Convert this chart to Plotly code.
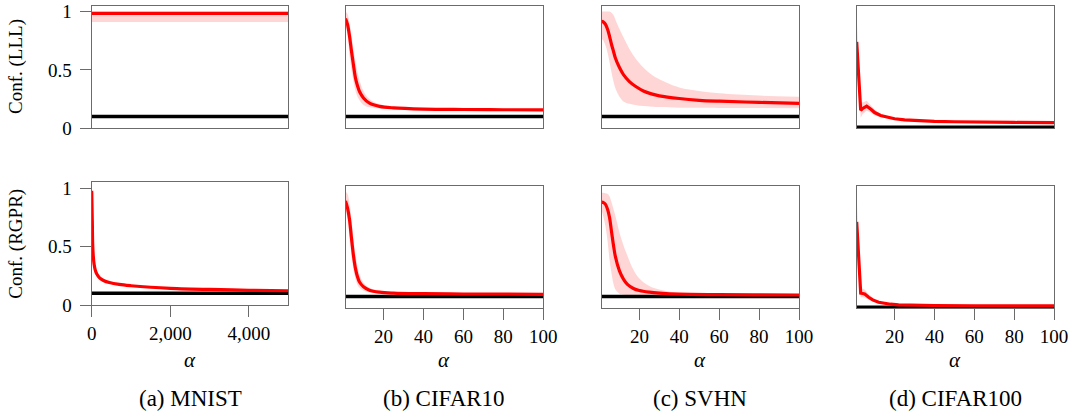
import plotly.graph_objects as go

# ---------------- data ----------------
datasets = ["MNIST", "CIFAR10", "SVHN", "CIFAR100"]
captions = ["(a) MNIST", "(b) CIFAR10", "(c) SVHN", "(d) CIFAR100"]
row_titles = ["Conf. (LLL)", "Conf. (RGPR)"]

# MNIST
mnist_alpha_lll = [0, 1000, 2000, 3000, 4000, 5000]
mnist_lll_mean = [0.985, 0.985, 0.985, 0.985, 0.985, 0.985]
mnist_lll_up = [1.0, 1.0, 1.0, 1.0, 1.0, 1.0]
mnist_lll_lo = [0.91, 0.91, 0.91, 0.91, 0.91, 0.91]

mnist_alpha_rgpr = [0, 15, 25, 40, 60, 90, 130, 200, 300, 450, 700, 1000, 1500, 2000, 3000, 4000, 5000]
mnist_rgpr_mean = [0.977, 0.72, 0.52, 0.42, 0.35, 0.30, 0.265, 0.232, 0.21, 0.192, 0.176, 0.165, 0.152, 0.143, 0.133, 0.126, 0.122]
mnist_rgpr_up = [0.99, 0.74, 0.55, 0.45, 0.37, 0.32, 0.28, 0.245, 0.22, 0.2, 0.182, 0.17, 0.156, 0.146, 0.135, 0.128, 0.124]
mnist_rgpr_lo = [0.96, 0.70, 0.49, 0.39, 0.33, 0.285, 0.25, 0.22, 0.2, 0.185, 0.17, 0.16, 0.148, 0.14, 0.131, 0.124, 0.12]

# CIFAR10
c10_alpha_lll = [1, 2, 3, 4, 5, 6, 7, 8, 10, 13, 18, 25, 40, 60, 80, 100]
c10_lll_mean = [0.94, 0.89, 0.79, 0.66, 0.54, 0.43, 0.365, 0.315, 0.26, 0.215, 0.188, 0.175, 0.165, 0.161, 0.159, 0.157]
c10_lll_up = [1.0, 0.98, 0.9, 0.8, 0.68, 0.57, 0.48, 0.41, 0.32, 0.25, 0.205, 0.185, 0.172, 0.167, 0.165, 0.163]
c10_lll_lo = [0.88, 0.8, 0.63, 0.5, 0.4, 0.32, 0.27, 0.24, 0.2, 0.18, 0.17, 0.165, 0.16, 0.156, 0.154, 0.152]

c10_alpha_rgpr = [1, 2, 3, 4, 5, 6, 7, 8, 10, 13, 18, 25, 40, 60, 80, 100]
c10_rgpr_mean = [0.92, 0.86, 0.76, 0.6, 0.45, 0.34, 0.27, 0.225, 0.185, 0.155, 0.138, 0.13, 0.125, 0.122, 0.121, 0.12]
c10_rgpr_up = [1.0, 0.98, 0.9, 0.76, 0.6, 0.46, 0.36, 0.29, 0.22, 0.175, 0.15, 0.138, 0.13, 0.126, 0.125, 0.124]
c10_rgpr_lo = [0.85, 0.76, 0.6, 0.45, 0.33, 0.25, 0.2, 0.175, 0.15, 0.135, 0.128, 0.124, 0.12, 0.118, 0.117, 0.116]

# SVHN
svhn_alpha_lll = [1, 2, 3, 4, 5, 6, 7, 8, 10, 12, 15, 18, 22, 26, 30, 40, 50, 60, 80, 100]
svhn_lll_mean = [0.915, 0.91, 0.89, 0.85, 0.79, 0.72, 0.66, 0.6, 0.52, 0.46, 0.4, 0.36, 0.32, 0.295, 0.278, 0.255, 0.24, 0.232, 0.222, 0.214]
svhn_lll_up = [1.0, 1.0, 1.0, 1.0, 1.0, 0.99, 0.97, 0.93, 0.85, 0.78, 0.68, 0.6, 0.52, 0.46, 0.42, 0.35, 0.32, 0.3, 0.28, 0.27]
svhn_lll_lo = [0.77, 0.75, 0.71, 0.65, 0.57, 0.48, 0.4, 0.34, 0.27, 0.23, 0.21, 0.2, 0.19, 0.185, 0.182, 0.177, 0.175, 0.174, 0.173, 0.172]

svhn_alpha_rgpr = [1, 2, 3, 4, 5, 6, 7, 8, 10, 12, 14, 17, 20, 25, 30, 40, 60, 80, 100]
svhn_rgpr_mean = [0.91, 0.905, 0.89, 0.85, 0.78, 0.66, 0.54, 0.44, 0.32, 0.25, 0.205, 0.17, 0.152, 0.138, 0.13, 0.121, 0.117, 0.115, 0.114]
svhn_rgpr_up = [0.99, 0.99, 0.985, 0.98, 0.96, 0.91, 0.85, 0.79, 0.65, 0.54, 0.45, 0.33, 0.255, 0.19, 0.16, 0.13, 0.12, 0.118, 0.116]
svhn_rgpr_lo = [0.84, 0.78, 0.7, 0.58, 0.42, 0.3, 0.21, 0.16, 0.125, 0.117, 0.113, 0.112, 0.111, 0.111, 0.11, 0.11, 0.11, 0.11, 0.11]

# CIFAR100
c100_alpha_lll = [1, 3, 4, 6, 8, 10, 13, 16, 20, 25, 30, 40, 50, 60, 80, 100]
c100_lll_mean = [0.74, 0.155, 0.17, 0.19, 0.165, 0.135, 0.11, 0.095, 0.082, 0.072, 0.066, 0.06, 0.056, 0.053, 0.05, 0.048]
c100_lll_up = [0.95, 0.22, 0.22, 0.235, 0.2, 0.16, 0.125, 0.105, 0.09, 0.08, 0.072, 0.065, 0.06, 0.057, 0.054, 0.052]
c100_lll_lo = [0.7, 0.09, 0.12, 0.15, 0.135, 0.11, 0.095, 0.085, 0.074, 0.066, 0.061, 0.055, 0.052, 0.05, 0.047, 0.045]

c100_alpha_rgpr = [1, 3, 4, 5, 7, 9, 12, 15, 18, 22, 30, 40, 60, 80, 100]
c100_rgpr_mean = [0.74, 0.13, 0.127, 0.122, 0.095, 0.072, 0.052, 0.042, 0.035, 0.03, 0.026, 0.024, 0.022, 0.021, 0.02]
c100_rgpr_up = [0.95, 0.17, 0.17, 0.16, 0.12, 0.09, 0.065, 0.05, 0.042, 0.036, 0.03, 0.027, 0.024, 0.023, 0.022]
c100_rgpr_lo = [0.72, 0.09, 0.095, 0.09, 0.075, 0.058, 0.043, 0.035, 0.03, 0.026, 0.023, 0.021, 0.02, 0.019, 0.018]

# baseline (1 / number of classes) lines
baselines = [0.1, 0.1, 0.1, 0.01]
x_ranges = [[0, 5000], [1, 100], [1, 100], [1, 100]]

series = {
    (0, 0): (mnist_alpha_lll, mnist_lll_mean, mnist_lll_up, mnist_lll_lo),
    (1, 0): (mnist_alpha_rgpr, mnist_rgpr_mean, mnist_rgpr_up, mnist_rgpr_lo),
    (0, 1): (c10_alpha_lll, c10_lll_mean, c10_lll_up, c10_lll_lo),
    (1, 1): (c10_alpha_rgpr, c10_rgpr_mean, c10_rgpr_up, c10_rgpr_lo),
    (0, 2): (svhn_alpha_lll, svhn_lll_mean, svhn_lll_up, svhn_lll_lo),
    (1, 2): (svhn_alpha_rgpr, svhn_rgpr_mean, svhn_rgpr_up, svhn_rgpr_lo),
    (0, 3): (c100_alpha_lll, c100_lll_mean, c100_lll_up, c100_lll_lo),
    (1, 3): (c100_alpha_rgpr, c100_rgpr_mean, c100_rgpr_up, c100_rgpr_lo),
}

# ---------------- layout geometry (pixels) ----------------
W, H = 1075, 411
col_px = [(91.7, 288.3), (345.5, 543.3), (601.5, 799.0), (856.7, 1054.0)]
row_px = {0: [(5.7, 128.3)] * 4, 1: [(182.3, 305.0)] + [(185.7, 308.3)] * 3}

FONT = "Liberation Serif"
FRAME = "#6b6b6b"
RED = "#ff0000"
BAND = "rgba(255,0,0,0.16)"

fig = go.Figure()
layout = dict(
    width=W, height=H, margin=dict(l=0, r=0, t=0, b=0),
    paper_bgcolor="white", plot_bgcolor="white", showlegend=False,
    font=dict(family=FONT, size=19, color="black"),
)

ann = []
idx = 0
for r in range(2):
    for c in range(4):
        idx += 1
        xa = "x" if idx == 1 else f"x{idx}"
        ya = "y" if idx == 1 else f"y{idx}"
        xk = "xaxis" if idx == 1 else f"xaxis{idx}"
        yk = "yaxis" if idx == 1 else f"yaxis{idx}"
        x0, x1 = col_px[c]
        yt, yb = row_px[r][c]
        xax = dict(domain=[x0 / W, x1 / W], range=x_ranges[c], anchor=ya,
                   showgrid=False, zeroline=False, showline=True, mirror=True,
                   linecolor=FRAME, linewidth=1.3, automargin=False)
        yax = dict(domain=[1 - yb / H, 1 - yt / H], range=[0, 1.05], anchor=xa,
                   showgrid=False, zeroline=False, showline=True, mirror=True,
                   linecolor=FRAME, linewidth=1.3, automargin=False)
        if r == 1:
            if c == 0:
                xax.update(tickvals=[0, 2000, 4000], ticktext=["0", "2,000", "4,000"])
            else:
                xax.update(tickvals=[20, 40, 60, 80, 100],
                           ticktext=["20", "40", "60", "80", "100"])
            xax.update(ticks="outside", ticklen=11, tickwidth=1.2, tickcolor=FRAME,
                       showticklabels=True, tickfont=dict(family=FONT, size=19))
        else:
            xax.update(ticks="", showticklabels=False)
        if c == 0:
            yax.update(tickvals=[0, 0.5, 1], ticktext=["0", "0.5", "1"], ticks="outside",
                       ticklen=11, tickwidth=1.2, tickcolor=FRAME, showticklabels=True,
                       tickfont=dict(family=FONT, size=19), ticklabelstandoff=4)
        else:
            yax.update(ticks="", showticklabels=False)
        layout[xk] = xax
        layout[yk] = yax

        ax, mean, up, lo = series[(r, c)]
        shape = "linear" if c == 3 else "spline"
        fig.add_trace(go.Scatter(x=ax, y=lo, xaxis=xa, yaxis=ya, mode="lines",
                                 line=dict(width=0, shape=shape), hoverinfo="skip"))
        fig.add_trace(go.Scatter(x=ax, y=up, xaxis=xa, yaxis=ya, mode="lines",
                                 line=dict(width=0, shape=shape), fill="tonexty",
                                 fillcolor=BAND, hoverinfo="skip"))
        fig.add_trace(go.Scatter(x=x_ranges[c], y=[baselines[c]] * 2, xaxis=xa, yaxis=ya,
                                 mode="lines", line=dict(color="black", width=3.5)))
        fig.add_trace(go.Scatter(x=ax, y=mean, xaxis=xa, yaxis=ya, mode="lines",
                                 line=dict(color=RED, width=3.2, shape=shape)))

        if r == 1:
            ann.append(dict(text="<i>α</i>", x=(x0 + x1) / 2 / W, y=1 - 360 / H,
                            xref="paper", yref="paper", showarrow=False,
                            xanchor="center", yanchor="middle",
                            font=dict(family=FONT, size=21)))
            ann.append(dict(text=captions[c], x=(x0 + x1) / 2 / W, y=1 - 398 / H,
                            xref="paper", yref="paper", showarrow=False,
                            xanchor="center", yanchor="middle",
                            font=dict(family=FONT, size=23)))

for r, title in enumerate(row_titles):
    yt, yb = row_px[r][0]
    ann.append(dict(text=title, x=16 / W, y=1 - (yt + yb) / 2 / H, xref="paper",
                    yref="paper", showarrow=False, textangle=-90,
                    xanchor="center", yanchor="middle", font=dict(family=FONT, size=19)))

layout["annotations"] = ann
fig.update_layout(**layout)
fig.write_html("out.html", config={"displayModeBar": False},
               post_script="document.body.style.margin='0';document.body.style.overflow='hidden';")
